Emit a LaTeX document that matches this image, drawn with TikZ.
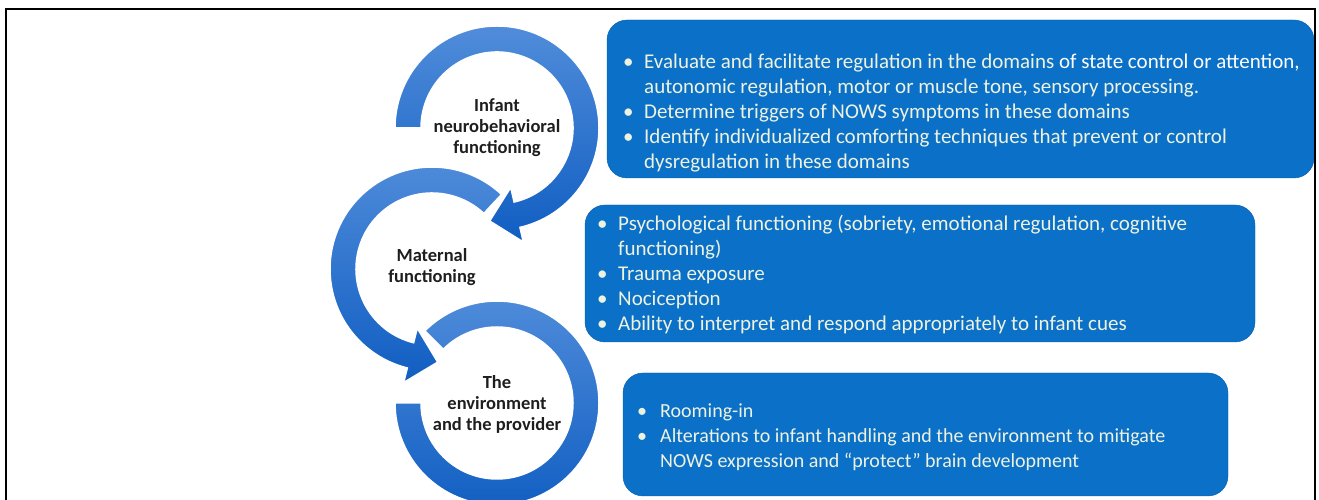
\documentclass[tikz,border=0pt]{standalone}
\usepackage{fontspec}
\setmainfont{Carlito}
\usepackage{xcolor}
\usepackage{tikz}
\usetikzlibrary{positioning}

\definecolor{boxblue}{RGB}{10,112,200}
\definecolor{ringtop}{RGB}{80,140,218}
\definecolor{ringbot}{RGB}{16,94,194}
\definecolor{cream}{RGB}{238,242,224}
\definecolor{labelgray}{RGB}{30,30,30}

\newcommand{\bulletmark}{\makebox[21pt][l]{\textbullet}}
\newcommand{\indentmark}{\hspace*{21pt}}

\begin{document}
\begin{tikzpicture}[x=1pt, y=1pt,
  ring/.style={top color=ringtop, bottom color=ringbot, draw=white, line width=1.5pt},
  hub/.style={font=\fontsize{18.5}{21}\selectfont\bfseries, text=labelgray, align=center, inner sep=0pt},
  panel/.style={fill=boxblue, draw=boxblue!85!black, rounded corners=20pt, inner sep=0pt},
  points/.style={font=\fontsize{21}{25}\selectfont, text=cream, align=left, anchor=west, inner sep=0pt}
]
\useasboundingbox (0,0) rectangle (1319,500);
\clip (0,0) rectangle (1319,500);

% rings, last one first so the heads lie on top
\begin{scope}[shift={(497,97)}]
  \path[ring] (135:102) arc[start angle=135, end angle=-180, radius=102]
    -- (-180:76) arc[start angle=-180, end angle=135, radius=76] -- cycle;
\end{scope}
\begin{scope}[shift={(432,231)}]
  \path[ring] (47:102) arc[start angle=47, end angle=256, radius=102]
    -- (256:117) -- (273.5:93.3) -- (256:61)
    -- (256:76) arc[start angle=256, end angle=47, radius=76] -- cycle;
\end{scope}
\begin{scope}[shift={(497,372)}]
  \path[ring] (180:102) arc[start angle=180, end angle=-77, radius=102]
    -- (-77:117) -- (-94.5:93.3) -- (-77:61)
    -- (-77:76) arc[start angle=-77, end angle=180, radius=76] -- cycle;
\end{scope}

\node[hub] (infant) at (497,372) {Infant\\neurobehavioral\\functioning};
\node[hub] (maternal) at (432,233) {Maternal\\functioning};
\node[hub] (environment) at (497,96) {The\\environment\\and the provider};

\node[panel, minimum width=707pt, minimum height=158pt] (infantbox) at (960.5,401) {};
\node[panel, minimum width=670pt, minimum height=137pt] (maternalbox) at (920,226.5) {};
\node[panel, minimum width=605pt, minimum height=123pt] (envbox) at (925.5,65.5) {};

\node[points] (infantlist) at (623,387) {%
  \bulletmark Evaluate and facilitate regulation in the domains \textcolor{white}{of state control or attention,}\\
  \indentmark autonomic regulation, motor or muscle tone, sensory processing.\\
  \bulletmark Determine triggers of NOWS symptoms in these domains\\
  \bulletmark Identify individualized comforting techniques that prevent or control\\
  \indentmark dysregulation in these domains};
\node[points] (maternallist) at (597,225.5) {%
  \bulletmark Psychological functioning (sobriety, emotional regulation, cognitive\\
  \indentmark functioning)\\
  \bulletmark Trauma exposure\\
  \bulletmark Nociception\\
  \bulletmark Ability to interpret and respond appropriately to infant cues};
\node[points, font=\fontsize{20}{25}\selectfont] (envlist) at (637,63) {%
  \makebox[23pt][l]{\textbullet}Rooming-in\\
  \makebox[23pt][l]{\textbullet}Alterations to infant handling and the environment to mitigate\\
  \hspace*{23pt}NOWS expression and “protect” brain development};

\draw[line width=2.5pt] (6,0) -- (6,491) -- (1315,491) -- (1315,0);
\end{tikzpicture}
\end{document}
